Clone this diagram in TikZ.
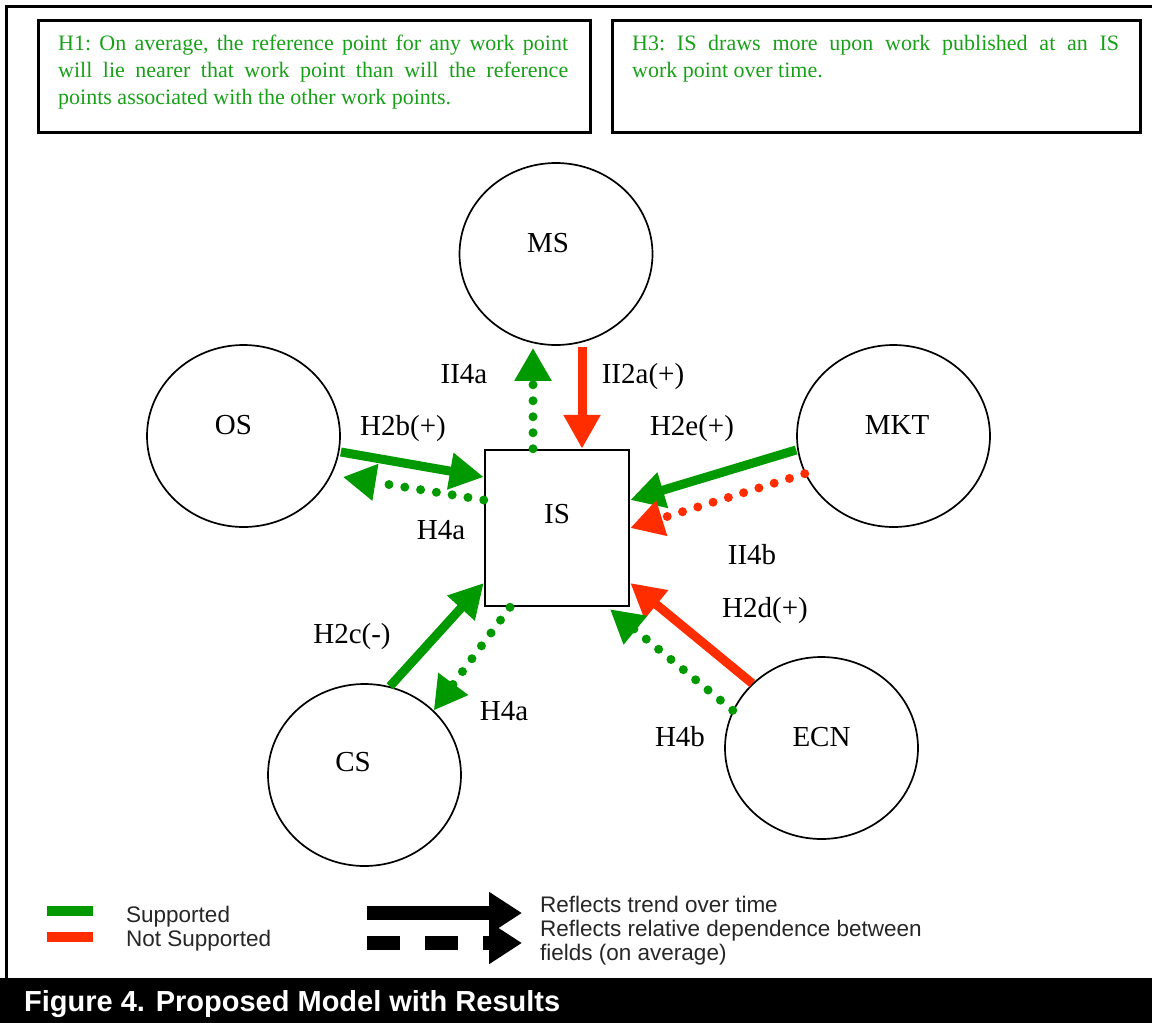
\documentclass[tikz,border=0pt]{standalone}
\usepackage{fontspec}
\setmainfont{Liberation Serif}
\setsansfont{Liberation Sans}
\usetikzlibrary{arrows.meta,shapes.geometric,calc}
\definecolor{supgreen}{RGB}{0,153,0}
\definecolor{nsred}{RGB}{255,45,0}
\definecolor{txtgreen}{RGB}{25,160,25}
\begin{document}
\begin{tikzpicture}[x=1pt,y=-1pt,
  field/.style={draw, ellipse, line width=1.7pt, minimum width=193pt, minimum height=182pt, inner sep=0pt},
  fname/.style={font=\fontsize{29}{33}\selectfont, inner sep=0pt, text height=19pt, text depth=0pt},
  lbl/.style={font=\fontsize{29}{33}\selectfont, inner sep=0pt, text height=19pt, text depth=0pt, anchor=center},
  solidarr/.style={line width=9pt, -{Triangle[length=34pt,width=35pt]}},
  dotarr/.style={line width=9pt, line cap=round, dash pattern=on 0pt off 16pt, -{Triangle[length=33pt,width=35pt]}},
  hypbox/.style={draw, line width=3pt, inner sep=0pt},
  hyptext/.style={anchor=north west, inner sep=0pt, text=txtgreen, align=justify, font=\fontsize{22}{27}\selectfont\frenchspacing},
  legtxt/.style={inner sep=0pt, font=\sffamily\fontsize{22.5}{24}\selectfont, text=black!85}
]
\useasboundingbox (0,0) rectangle (1152,1023);
% outer frame
\draw[line width=3pt] (6,978) -- (6,6) -- (1152,6);
% caption bar
\fill[black] (0,978) rectangle (1152,1023);
\node[anchor=base west, text=white, font=\sffamily\bfseries\fontsize{29}{32}\selectfont, inner sep=0pt] (cap) at (24,1011) {Figure 4. Proposed Model with Results};

% hypothesis boxes
\node[hypbox, minimum width=552pt, minimum height=112pt] (h1box) at (314,76) {};
\node[hyptext, text width=510pt] (h1text) at (58,35) {H1: On average, the reference point for any work point\linebreak will lie nearer that work point than will the reference\linebreak points associated with the other work points.};
\node[hypbox, minimum width=528pt, minimum height=112pt] (h3box) at (876,76) {};
\node[hyptext, text width=487pt] (h3text) at (632,35) {H3: IS draws more upon work published at an IS\linebreak work point over time.};

% fields
\node[field, label={[fname, xshift=-8pt, yshift=11pt]center:MS}] (MS) at (556,254) {};
\node[field, label={[fname, xshift=-10pt, yshift=11pt]center:OS}] (OS) at (243.5,436) {};
\node[field, label={[fname, xshift=3.5pt, yshift=11pt]center:MKT}] (MKT) at (893.5,436) {};
\node[field, label={[fname, xshift=-11.5pt, yshift=13pt]center:CS}] (CS) at (364.5,775) {};
\node[field, label={[fname, xshift=0pt, yshift=11pt]center:ECN}] (ECN) at (821.5,748) {};
\node[draw, line width=2.5pt, minimum width=144pt, minimum height=156pt, inner sep=0pt, label={[fname, yshift=14pt]center:IS}] (IS) at (557,528) {};

% connectors
\draw[dotarr, supgreen] ([xshift=-24pt]IS.north) -- ([xshift=-23pt,yshift=-2pt]MS.south);
\draw[solidarr, nsred] ([xshift=26pt,yshift=-1pt]MS.south) -- ([xshift=25pt]IS.north);
\draw[solidarr, supgreen] ([yshift=-16pt]OS.east) -- ([yshift=51pt]IS.west);
\draw[dotarr, supgreen] ([yshift=28pt]IS.west) -- ([xshift=2pt,yshift=-41pt]OS.east);
\draw[solidarr, supgreen] (CS.74) -- ([yshift=-55pt]IS.west);
\draw[dotarr, supgreen] ([xshift=-47pt]IS.south) -- (CS.43);
\draw[solidarr, supgreen] ([yshift=-14pt]MKT.west) -- ([yshift=28pt]IS.east);
\draw[dotarr, nsred] (MKT.203) -- (IS.east);
\draw[solidarr, nsred] (ECN.137) -- ([yshift=-55pt]IS.east);
\draw[dotarr, supgreen] (ECN.157) -- ([xshift=53pt,yshift=-2pt]IS.south);

% connector labels
\node[lbl] (l1) at (464,374) {II4a};
\node[lbl] (l2) at (643,374) {II2a(+)};
\node[lbl] (l3) at (403,426) {H2b(+)};
\node[lbl] (l4) at (692,426) {H2e(+)};
\node[lbl] (l5) at (441,530) {H4a};
\node[lbl] (l6) at (752,555) {II4b};
\node[lbl] (l7) at (765,608) {H2d(+)};
\node[lbl] (l8) at (352,634) {H2c(-)};
\node[lbl] (l9) at (504,711) {H4a};
\node[lbl] (l10) at (680,737) {H4b};

% legend
\fill[supgreen] (47,906) rectangle (93,916);
\fill[nsred] (47,932) rectangle (93,942);
\node[legtxt, anchor=base west] (ls) at (126,922) {Supported};
\node[legtxt, anchor=base west] (lns) at (126,946) {Not Supported};
\coordinate (a1s) at (367,913); \coordinate (a1e) at (522,913);
\draw[line width=14pt, -{Triangle[length=33pt,width=40pt]}] (a1s) -- (a1e);
\coordinate (a2s) at (367,943); \coordinate (a2e) at (522,943);
\draw[line width=14pt, dash pattern=on 33pt off 25pt, -{Triangle[length=33pt,width=40pt]}] (a2s) -- (a2e);
\node[legtxt, anchor=base west] (lt1) at (540,912) {Reflects trend over time};
\node[legtxt, anchor=north west, align=left] (lt2) at (540,920) {Reflects relative dependence between\\fields (on average)};
\end{tikzpicture}
\end{document}
